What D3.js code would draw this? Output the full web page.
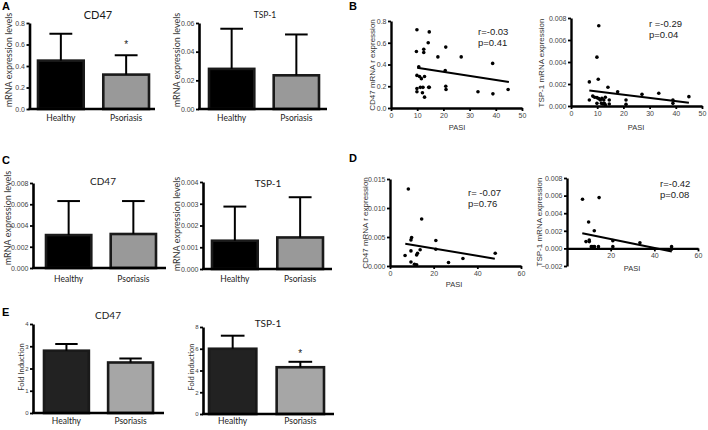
<!DOCTYPE html>
<html><head><meta charset="utf-8">
<script src="https://cdn.jsdelivr.net/npm/d3@7"></script>
<style>
body{margin:0;background:#fff}
svg{display:block}
text{font-family:"Liberation Sans",Arial,sans-serif}
.nar{font-family:"Liberation Sans Narrow","Liberation Sans",Arial,sans-serif}
.hum{font-family:Lato,"Open Sans","Liberation Sans",sans-serif}
</style>
</head><body><svg id="c" width="708" height="430"></svg>
<script>
// ---------------- DATA ----------------
const groups = ["Healthy", "Psoriasis"];

// A: mRNA expression levels (mean, mean+SD)
const aCd47Mean = [0.45, 0.32];
const aCd47Upper = [0.70, 0.50];
const aCd47Ticks = [0, 0.2, 0.4, 0.6, 0.8];
const aTspMean = [0.028, 0.0235];
const aTspUpper = [0.056, 0.052];
const aTspTicks = [0, 0.02, 0.04, 0.06];

// C
const cCd47Mean = [0.0031, 0.0032];
const cCd47Upper = [0.0063, 0.0063];
const cCd47Ticks = [0, 0.002, 0.004, 0.006, 0.008];
const cTspMean = [0.0013, 0.00145];
const cTspUpper = [0.00287, 0.0033];
const cTspTicks = [0, 0.001, 0.002, 0.003, 0.004];

// E: fold induction
const eCd47Mean = [2.8, 2.27];
const eCd47Upper = [3.1, 2.45];
const eCd47Ticks = [0, 1, 2, 3, 4];
const eTspMean = [6.0, 4.3];
const eTspUpper = [7.2, 4.8];
const eTspTicks = [0, 2, 4, 6, 8];

// B: correlation with PASI
const bCd47Pasi = [9.9,14.6,14.2,9.7,12.5,12.5,17.9,20.9,26.8,38.8,10.6,20.7,9.9,10.9,11.6,12.8,9.9,11.2,12.2,14.4,14.6,20.9,21.0,9.9,12.0,12.8,33.2,38.9,44.7];
const bCd47Expr = [0.72,0.70,0.60,0.52,0.54,0.51,0.47,0.56,0.47,0.41,0.38,0.345,0.30,0.29,0.27,0.29,0.18,0.19,0.19,0.19,0.19,0.20,0.17,0.15,0.14,0.10,0.15,0.13,0.17];
const bCd47Fit = [[10, 0.37], [45, 0.24]];
const bCd47Stats = ["r=-0.03", "p=0.41"];
const bCd47YTicks = [0, 0.2, 0.4, 0.6, 0.8];
const bXTicks = [0, 10, 20, 30, 40, 50];

const bTspPasi = [10.6,9.9,10.4,7.0,14.1,17.8,7.0,8.3,9.0,9.9,10.6,11.2,11.8,12.5,13.1,11.6,12.2,12.7,14.6,14.6,21.0,21.0,27.1,33.5,38.9,38.9,45.0,9.9,13.1];
const bTspExpr = [0.0073,0.00444,0.00243,0.00219,0.0017,0.0013,0.00055,0.0009,0.0008,0.00076,0.00067,0.00055,0.0007,0.00055,0.0008,0.00024,0.00018,0.00024,0.00055,0.00018,0.00055,0.00015,0.00106,0.00116,0.00055,0.00024,0.00085,0.00024,0.0001];
const bTspFit = [[7, 0.0014], [45, 0.0003]];
const bTspStats = ["r =-0.29", "p=0.04"];
const bTspYTicks = [0, 0.002, 0.004, 0.006, 0.008];

// D
const dCd47Pasi = [8.4,14.5,9.9,9.6,21.0,6.9,9.6,13.8,12.6,12.2,21.0,33.4,48.2,26.8,9.6,11.2,12.2];
const dCd47Expr = [0.01328,0.0081,0.0049,0.0045,0.0044,0.0018,0.0026,0.0028,0.0022,0.0019,0.0029,0.0013,0.0022,0.0006,0.0007,0.0003,0.0002];
const dCd47Fit = [[7, 0.00385], [48, 0.00126]];
const dCd47Stats = ["r= -0.07", "p=0.76"];
const dCd47YTicks = [0, 0.005, 0.010, 0.015];
const dCd47XTicks = [0, 20, 40, 60];

const dTspPasi = [7.1,14.7,9.9,12.5,8.7,10.2,10.2,11.1,11.9,12.6,14.4,21.0,21.0,33.4,47.9,47.9];
const dTspExpr = [0.00558,0.00577,0.0030,0.0020,0.00077,0.00096,0.00077,0.0002,0.0002,0.0002,0.0002,0.00088,0.0002,0.00065,0.0002,-0.0001];
const dTspFit = [[7, 0.00173], [48, -0.00035]];
const dTspStats = ["r=-0.42", "p=0.08"];
const dTspYTicks = [-0.002, 0, 0.002, 0.004, 0.006, 0.008];
const dTspXTicks = [20, 40, 60];

// ---------------- DRAW ----------------
const svg = d3.select("#c");

function styleAxis(g, w) {
  g.attr("font-family", null);
  g.select(".domain").attr("stroke", "#000").attr("stroke-width", w);
  g.selectAll(".tick line").attr("stroke", "#000").attr("stroke-width", 1.8);
}

function barPanel(o) {
  const g = svg.append("g");
  const y = d3.scaleLinear().domain([0, o.ticks[o.ticks.length - 1]]).range([o.yBot, o.yTop]);
  const x = d3.scaleBand().domain(groups).range([o.barL, o.barR]).paddingInner(0.3);
  const bw = x.bandwidth();
  g.selectAll("rect.bar").data(groups).join("rect")
    .attr("x", d => x(d)).attr("width", bw)
    .attr("y", (d, i) => y(o.means[i]))
    .attr("height", (d, i) => y(0) - y(o.means[i]))
    .attr("fill", (d, i) => o.fills[i])
    .attr("stroke", "#1a1a1a").attr("stroke-width", 2.6);
  groups.forEach((d, i) => {
    const cx = x(d) + bw / 2;
    g.append("line").attr("x1", cx).attr("x2", cx)
      .attr("y1", y(o.means[i])).attr("y2", y(o.upper[i]))
      .attr("stroke", "#000").attr("stroke-width", 2);
    g.append("line").attr("x1", cx - bw / 4).attr("x2", cx + bw / 4)
      .attr("y1", y(o.upper[i])).attr("y2", y(o.upper[i]))
      .attr("stroke", "#000").attr("stroke-width", 2);
    if (o.star === i) {
      g.append("text").attr("x", cx).attr("y", y(o.upper[i]) - o.starOff)
        .attr("text-anchor", "middle").attr("font-size", 10).attr("fill", "#222").text("*");
    }
  });
  const ya = g.append("g").attr("transform", `translate(${o.x0},0)`)
    .call(d3.axisLeft(y).tickValues(o.ticks).tickFormat(d3.format(o.fmt)).tickSize(3).tickSizeOuter(0).tickPadding(1.5));
  styleAxis(ya, 2.6);
  ya.selectAll(".tick text").attr("font-size", o.tickSize || 7).attr("fill", "#444");
  g.append("line").attr("x1", o.x0 - 1).attr("x2", o.x1).attr("y1", o.yBot).attr("y2", o.yBot)
    .attr("stroke", "#000").attr("stroke-width", 2.6);
  const xa = g.append("g").attr("transform", `translate(0,${o.yBot})`)
    .call(d3.axisBottom(x).tickSize(0).tickPadding(0));
  xa.attr("font-family", null);
  xa.select(".domain").remove();
  xa.selectAll(".tick text").attr("class", "hum").attr("font-size", 8.5).attr("y", o.catY - o.yBot).attr("dy", "0.35em").attr("fill", "#222");
  g.append("text").attr("class", "hum").attr("x", o.titleX).attr("y", o.titleY).attr("dy", "0.35em")
    .attr("text-anchor", "middle").attr("font-size", o.titleSize).attr("fill", "#1a1a1a").text(o.title);
  g.append("text").attr("class", "hum").attr("transform", `translate(${o.ylX},${o.ylY}) rotate(-90)`)
    .attr("text-anchor", "middle").attr("dy", "0.35em").attr("font-size", o.ylSize).attr("fill", "#333")
    .text(o.ylabel);
}

function scatterPanel(o) {
  const g = svg.append("g");
  const x = d3.scaleLinear().domain(o.xDom).range([o.x0, o.x1]);
  const y = d3.scaleLinear().domain(o.yDom).range([o.yBot, o.yTop]);
  const xa = g.append("g").attr("transform", `translate(0,${y(0)})`)
    .call(d3.axisBottom(x).tickValues(o.xTicks).tickFormat(d3.format("d")).tickSize(3).tickSizeOuter(0).tickPadding(2));
  styleAxis(xa, 2.4);
  xa.selectAll(".tick text").attr("font-size", 7).attr("fill", "#444").attr("class", "nar");
  const ya = g.append("g").attr("transform", `translate(${o.x0},0)`)
    .call(d3.axisLeft(y).tickValues(o.yTicks).tickFormat(d3.format(o.fmt)).tickSize(3).tickSizeOuter(0).tickPadding(1.5));
  styleAxis(ya, 2.4);
  ya.selectAll(".tick text").attr("font-size", 7).attr("fill", "#444").attr("class", "nar");
  g.append("path").datum(o.fit)
    .attr("d", d3.line().x(d => x(d[0])).y(d => y(d[1])))
    .attr("stroke", "#000").attr("stroke-width", 2).attr("fill", "none");
  g.selectAll("circle").data(o.px.map((p, i) => [p, o.py[i]])).join("circle")
    .attr("cx", d => x(d[0])).attr("cy", d => y(d[1])).attr("r", 1.8).attr("fill", "#000");
  o.stats.forEach((s, i) => {
    g.append("text").attr("class", "nar").attr("x", o.statX).attr("y", o.statY + i * 11)
      .attr("dy", "0.35em").attr("font-size", 9.5).attr("fill", "#1a1a1a").text(s);
  });
  g.append("text").attr("class", "nar").attr("x", o.pasiX).attr("y", o.pasiY).attr("dy", "0.35em")
    .attr("text-anchor", "middle").attr("font-size", 7.5).attr("fill", "#333").text("PASI");
  g.append("text").attr("class", "nar").attr("transform", `translate(${o.ylX},${o.ylY}) rotate(-90)`)
    .attr("text-anchor", "middle").attr("dy", "0.35em").attr("font-size", 8).attr("fill", "#333").text(o.ylabel);
}

[["A", 2, 10], ["B", 349, 10], ["C", 2, 164], ["D", 349, 162], ["E", 2, 316]].forEach(([t, x, y]) => {
  svg.append("text").attr("x", x).attr("y", y).attr("font-size", 11).attr("font-weight", "bold").attr("fill", "#000").text(t);
});

barPanel({x0: 29.5, x1: 155, yTop: 23, yBot: 109, barL: 38, barR: 149, ticks: aCd47Ticks, fmt: ".1f",
  means: aCd47Mean, upper: aCd47Upper, fills: ["#000", "#999"], star: 1, starOff: 7,
  title: "CD47", titleX: 98, titleY: 15.5, titleSize: 11, catY: 118,
  ylabel: "mRNA expression levels", ylX: 9, ylY: 60, ylSize: 9});
barPanel({x0: 199, x1: 327, yTop: 23, yBot: 109, barL: 209, barR: 319, ticks: aTspTicks, fmt: ".2f",
  means: aTspMean, upper: aTspUpper, fills: ["#000", "#999"],
  title: "TSP-1", titleX: 265, titleY: 15.5, titleSize: 8.5, catY: 118,
  ylabel: "mRNA expression levels", ylX: 177, ylY: 60, ylSize: 9});
barPanel({x0: 33, x1: 166, yTop: 183, yBot: 268, barL: 46, barR: 156, ticks: cCd47Ticks, fmt: ".3f",
  means: cCd47Mean, upper: cCd47Upper, fills: ["#000", "#999"],
  title: "CD47", titleX: 103, titleY: 181.5, titleSize: 10, catY: 279.5,
  ylabel: "mRNA  expression levels", ylX: 8, ylY: 218, ylSize: 9});
barPanel({x0: 203, x1: 332, yTop: 182, yBot: 269, barL: 212, barR: 323, ticks: cTspTicks, fmt: ".3f",
  means: cTspMean, upper: cTspUpper, fills: ["#000", "#999"],
  title: "TSP-1", titleX: 268, titleY: 183, titleSize: 10, catY: 279.5,
  ylabel: "mRNA  expression levels", ylX: 177, ylY: 224, ylSize: 9});
barPanel({x0: 33, x1: 164, yTop: 324, yBot: 413, barL: 44, barR: 153, ticks: eCd47Ticks, fmt: "d",
  means: eCd47Mean, upper: eCd47Upper, fills: ["#222", "#a6a6a6"], tickSize: 6,
  title: "CD47", titleX: 108, titleY: 315.5, titleSize: 10, catY: 421.5,
  ylabel: "Fold Induction", ylX: 21, ylY: 367, ylSize: 7.5});
barPanel({x0: 203, x1: 334, yTop: 327, yBot: 414, barL: 209, barR: 324, ticks: eTspTicks, fmt: "d",
  means: eTspMean, upper: eTspUpper, fills: ["#222", "#a6a6a6"], star: 1, starOff: 5, tickSize: 6,
  title: "TSP-1", titleX: 268, titleY: 323.5, titleSize: 10, catY: 421.5,
  ylabel: "Fold induction", ylX: 191, ylY: 367, ylSize: 7.5});

scatterPanel({x0: 391, x1: 522, yTop: 21, yBot: 108, xDom: [0, 50], yDom: [0, 0.8],
  xTicks: bXTicks, yTicks: bCd47YTicks, fmt: ".1f", px: bCd47Pasi, py: bCd47Expr, fit: bCd47Fit,
  stats: bCd47Stats, statX: 478, statY: 31.5, pasiX: 457, pasiY: 127,
  ylabel: "CD47 mRNA r expression", ylX: 372, ylY: 65});
scatterPanel({x0: 571, x1: 702, yTop: 18, yBot: 106, xDom: [0, 50], yDom: [0, 0.008],
  xTicks: bXTicks, yTicks: bTspYTicks, fmt: ".3f", px: bTspPasi, py: bTspExpr, fit: bTspFit,
  stats: bTspStats, statX: 649, statY: 24, pasiX: 636, pasiY: 127,
  ylabel: "TSP-1 mRNA expression", ylX: 541, ylY: 63});
scatterPanel({x0: 390, x1: 521, yTop: 179, yBot: 266, xDom: [0, 60], yDom: [0, 0.015],
  xTicks: dCd47XTicks, yTicks: dCd47YTicks, fmt: ".3f", px: dCd47Pasi, py: dCd47Expr, fit: dCd47Fit,
  stats: dCd47Stats, statX: 468, statY: 193, pasiX: 454, pasiY: 284,
  ylabel: "CD47 mRNA r expression", ylX: 365, ylY: 223});
scatterPanel({x0: 567, x1: 698, yTop: 178, yBot: 266, xDom: [0, 60], yDom: [-0.002, 0.008],
  xTicks: dTspXTicks, yTicks: dTspYTicks, fmt: ".3f", px: dTspPasi, py: dTspExpr, fit: dTspFit,
  stats: dTspStats, statX: 660, statY: 184, pasiX: 632, pasiY: 268,
  ylabel: "TSP-1 mRNA expression", ylX: 539, ylY: 222});
</script>
</body></html>
